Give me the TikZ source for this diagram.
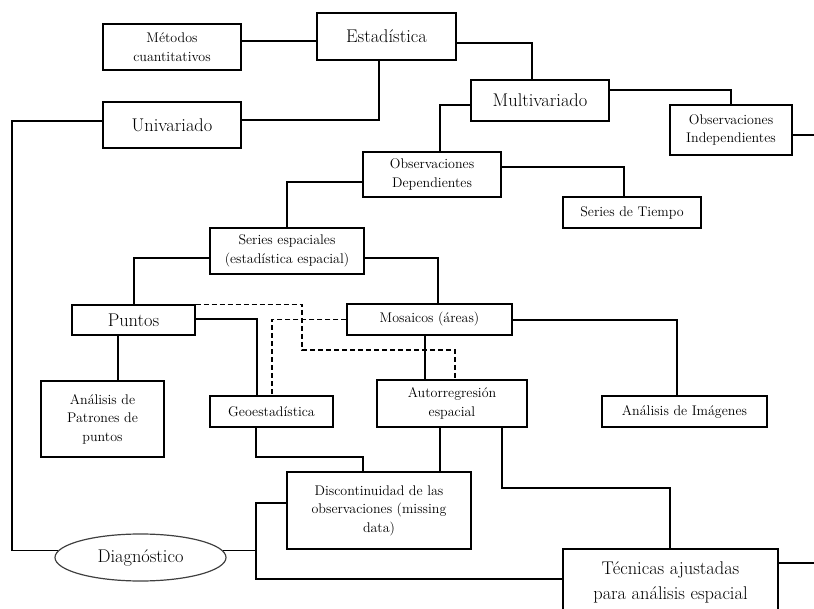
\documentclass[tikz,border=0pt]{standalone}
\usetikzlibrary{shapes.geometric}

\tikzset{
  caja/.style={draw, line width=1.4pt, align=center, inner sep=1pt,
    font=\fontsize{14}{18.5}\selectfont},
  cajagrande/.style={caja, font=\fontsize{18.4}{25}\selectfont},
  enlace/.style={line width=1.4pt},
  enlacedash/.style={line width=1.3pt, dash pattern=on 5pt off 3pt},
}

\begin{document}
\begin{tikzpicture}[x=1pt,y=-1pt]
\useasboundingbox (0,0) rectangle (814,609);

%%%%%%%%%%%%%%%%%%Upper Level Boxes%%%%%%%%%%%%%%%%%%
\node[caja, minimum width=138pt, minimum height=46pt] (met) at (172,47) {Métodos\\cuantitativos};
\node[cajagrande, minimum width=139pt, minimum height=47pt] (est) at (386.5,36.5) {Estadística};
\node[cajagrande, minimum width=138pt, minimum height=46pt] (uni) at (172,125) {Univariado};
\node[cajagrande, minimum width=138pt, minimum height=41pt] (mult) at (540,100.5) {Multivariado};
\node[caja, minimum width=122pt, minimum height=50pt] (oind) at (731,130) {Observaciones\\Independientes};
\node[caja, minimum width=138pt, minimum height=45pt] (odep) at (432,174.5) {Observaciones\\Dependientes};
\node[caja, minimum width=138pt, minimum height=31pt] (stie) at (632,212.5) {Series de Tiempo};
\node[caja, minimum width=154pt, minimum height=46pt] (sesp) at (287,251) {Series espaciales\\(estadística espacial)};

%%%%%%%%%%%%%%%%%%Middle Level Boxes%%%%%%%%%%%%%%%%%%
\node[cajagrande, minimum width=123pt, minimum height=30pt] (pun) at (133.5,320) {Puntos};
\node[caja, minimum width=165pt, minimum height=31pt] (mos) at (429.5,319.5) {Mosaicos (áreas)};
\node[caja, minimum width=123pt, minimum height=76pt] (apat) at (102.5,419) {Análisis de\\Patrones de\\puntos};
\node[caja, minimum width=123pt, minimum height=31pt] (geo) at (271.5,411.5) {Geoestadística};
\node[caja, minimum width=150pt, minimum height=47pt] (aut) at (452,403.5) {Autorregresión\\espacial};
\node[caja, minimum width=165pt, minimum height=31pt] (aimg) at (684.5,411.5) {Análisis de Imágenes};

%%%%%%%%%%%%%%%%%%Lower Level Boxes%%%%%%%%%%%%%%%%%%
\node[caja, minimum width=184pt, minimum height=77pt] (disc) at (379,510.5) {Discontinuidad de las\\observaciones (missing\\data)};
\node[ellipse, draw=black!75, line width=1.2pt, inner sep=0pt, minimum width=171pt, minimum height=47pt,
  font=\fontsize{18.4}{25}\selectfont] (diag) at (140.5,557.5) {Diagnóstico};
\node[cajagrande, minimum width=215pt, minimum height=66pt] (tec) at (670.5,582) {Técnicas ajustadas\\para análisis espacial};

\coordinate (oindout) at (820,135);
\coordinate (tecout) at (820,563);

%%%%%%%%%%%%%%%%%%Solid Links%%%%%%%%%%%%%%%%%%
\draw[enlace] (met.east |- 0,41) -- (est.west |- 0,41);
\draw[enlace] (est.south -| 379,0) |- (uni.east |- 0,120);
\draw[enlace] (est.east |- 0,43) -| (mult.north -| 532,0);
\draw[enlace] (mult.east |- 0,90) -| (oind.north);
\draw[enlace] (oind.east |- 0,135) -- (oindout);
\draw[enlace] (mult.west |- 0,105) -| (odep.north -| 440,0);
\draw[enlace] (odep.east |- 0,167) -| (stie.north -| 624,0);
\draw[enlace] (odep.west |- 0,182) -| (sesp.north);
\draw[enlace] (sesp.west |- 0,258) -| (pun.north -| 134,0);
\draw[enlace] (sesp.east |- 0,258) -| (mos.north -| 438,0);
\draw[enlace] (pun.east |- 0,319) -| (geo.north -| 257,0);
\draw[enlace] (pun.south -| 118,0) -- (apat.north -| 118,0);
\draw[enlace] (mos.south -| 425,0) -- (aut.north -| 425,0);
\draw[enlace] (mos.east |- 0,320) -| (aimg.north -| 677,0);
\draw[enlace] (geo.south -| 256,0) |- (363,457) -- (disc.north -| 363,0);
\draw[enlace] (aut.south -| 440,0) -- (disc.north -| 440,0);
\draw[enlace] (aut.south -| 502,0) |- (670,488) -- (tec.north -| 670,0);
\draw[enlace] (tec.east |- 0,563) -- (tecout);

%%%%%%%%%%%%%%%%%%Links to Diagnostico%%%%%%%%%%%%%%%%%%
\draw[enlace] (uni.west |- 0,121) -| (diag.175 -| 12,0) -- (diag.175);
\draw[enlace] (diag.5) -- (diag.5 -| 256,0);
\draw[enlace] (disc.west |- 0,503) -| (256,579) -- (tec.west |- 0,579);

%%%%%%%%%%%%%%%%%%Dashed Links%%%%%%%%%%%%%%%%%%
\draw[enlacedash] (pun.north east) -| (302,350) -| (aut.north -| 455,0);
\draw[enlacedash] (mos.west) -| (geo.north -| 272,0);

\end{tikzpicture}
\end{document}
